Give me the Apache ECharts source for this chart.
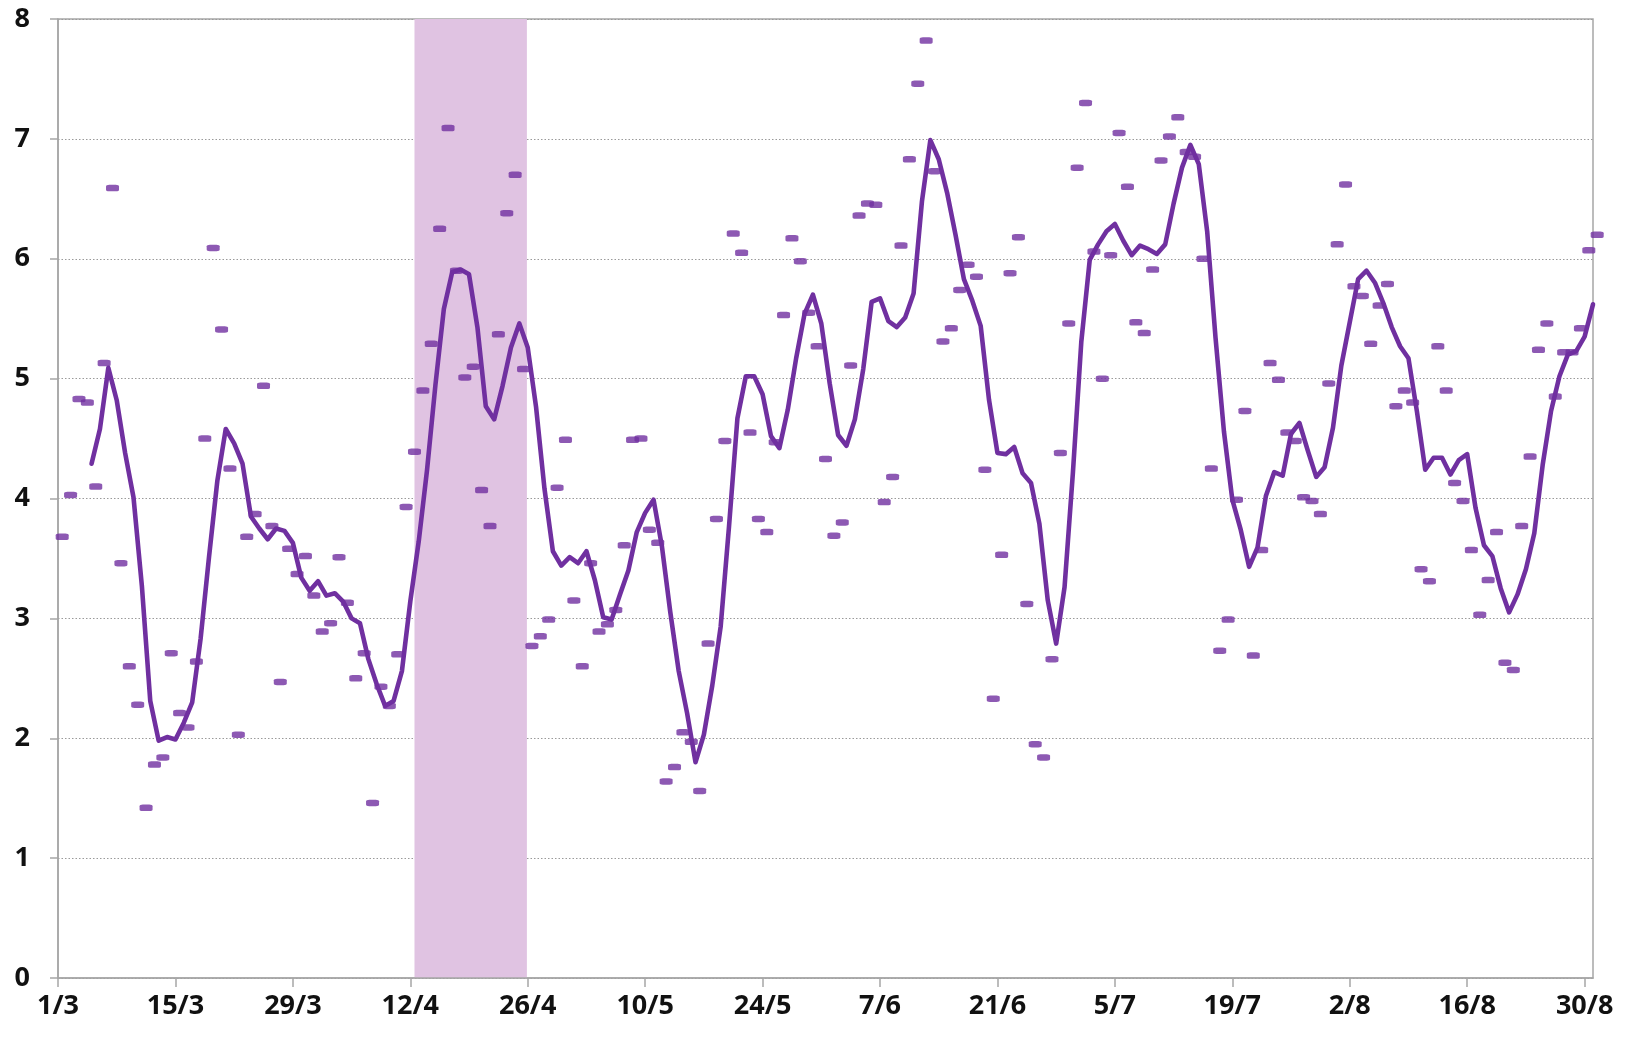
<!DOCTYPE html>
<html><head><meta charset="utf-8">
<script src="https://cdn.jsdelivr.net/npm/echarts@6/dist/echarts.min.js"></script>
<style>html,body{margin:0;padding:0;background:#fff}#c{width:1631px;height:1037px}</style>
</head><body><div id="c"></div>
<script>
// Daily values, one per day from 1/3 (day 0) to 31/8 (day 183)
const dailyValues = [
3.68,4.03,4.83,4.80,4.10,5.13,6.59,3.46,2.60,2.28,
1.42,1.78,1.84,2.71,2.21,2.09,2.64,4.50,6.09,5.41,
4.25,2.03,3.68,3.87,4.94,3.77,2.47,3.58,3.37,3.52,
3.19,2.89,2.96,3.51,3.13,2.50,2.71,1.46,2.43,2.27,
2.70,3.93,4.39,4.90,5.29,6.25,7.09,5.90,5.01,5.10,
4.07,3.77,5.37,6.38,6.70,5.08,2.77,2.85,2.99,4.09,
4.49,3.15,2.60,3.46,2.89,2.95,3.07,3.61,4.49,4.50,
3.74,3.63,1.64,1.76,2.05,1.97,1.56,2.79,3.83,4.48,
6.21,6.05,4.55,3.83,3.72,4.47,5.53,6.17,5.98,5.55,
5.27,4.33,3.69,3.80,5.11,6.36,6.46,6.45,3.97,4.18,
6.11,6.83,7.46,7.82,6.73,5.31,5.42,5.74,5.95,5.85,
4.24,2.33,3.53,5.88,6.18,3.12,1.95,1.84,2.66,4.38,
5.46,6.76,7.30,6.06,5.00,6.03,7.05,6.60,5.47,5.38,
5.91,6.82,7.02,7.18,6.89,6.85,6.00,4.25,2.73,2.99,
3.99,4.73,2.69,3.57,5.13,4.99,4.55,4.48,4.01,3.98,
3.87,4.96,6.12,6.62,5.77,5.69,5.29,5.61,5.79,4.77,
4.90,4.80,3.41,3.31,5.27,4.90,4.13,3.98,3.57,3.03,
3.32,3.72,2.63,2.57,3.77,4.35,5.24,5.46,4.85,5.22,
5.22,5.42,6.07,6.20];

// Smoothed line, starting on day 4 (5/3)
const smoothStartDay = 4;
const smoothedValues = [
4.29,4.58,5.09,4.82,4.38,4.01,3.27,2.31,1.98,2.01,
1.99,2.13,2.30,2.83,3.51,4.15,4.58,4.46,4.29,3.85,
3.75,3.66,3.75,3.73,3.63,3.34,3.23,3.31,3.19,3.21,
3.14,3.00,2.96,2.66,2.45,2.27,2.31,2.56,3.14,3.64,
4.24,4.95,5.58,5.89,5.91,5.87,5.43,4.77,4.66,4.94,
5.26,5.46,5.26,4.76,4.08,3.56,3.44,3.51,3.46,3.56,
3.32,3.01,2.99,3.20,3.40,3.72,3.88,3.99,3.60,3.05,
2.56,2.21,1.80,2.03,2.44,2.93,3.77,4.67,5.02,5.02,
4.87,4.52,4.42,4.74,5.17,5.54,5.70,5.46,4.96,4.53,
4.44,4.66,5.08,5.64,5.67,5.48,5.43,5.51,5.71,6.48,
6.99,6.83,6.55,6.20,5.83,5.65,5.44,4.82,4.38,4.37,
4.43,4.21,4.13,3.79,3.15,2.79,3.26,4.22,5.31,5.99,
6.12,6.23,6.29,6.15,6.03,6.11,6.08,6.04,6.12,6.46,
6.76,6.95,6.79,6.23,5.34,4.56,3.99,3.74,3.43,3.59,
4.02,4.22,4.19,4.54,4.63,4.40,4.18,4.26,4.59,5.11,
5.47,5.83,5.90,5.80,5.63,5.43,5.27,5.17,4.73,4.24,
4.34,4.34,4.20,4.32,4.37,3.92,3.61,3.52,3.25,3.05,
3.20,3.41,3.71,4.28,4.73,5.02,5.20,5.23,5.35,5.62];

const tickDays = [0,14,28,42,56,70,84,98,112,126,140,154,168,182];
const tickLabels = ['1/3','15/3','29/3','12/4','26/4','10/5','24/5','7/6','21/6','5/7','19/7','2/8','16/8','30/8'];
const yTicks = [0,1,2,3,4,5,6,7,8];
const shadedPeriod = [42.5, 55.9]; // 12/4 .. 26/4
const lastDay = 183;

const purple = '#7030A0';
const labelFont = {fontFamily: '"Open Sans", "DejaVu Sans", sans-serif', fontSize: 27, fontWeight: 'bold', color: '#111'};

const chart = echarts.init(document.getElementById('c'), null, {renderer: 'canvas'});
chart.setOption({
  animation: false,
  backgroundColor: '#fff',
  grid: {left: 58, right: 38, top: 19, bottom: 59, show: true, borderColor: '#a6a6a6', borderWidth: 1.5, backgroundColor: 'transparent', z: 0},
  xAxis: [{
    type: 'value', min: 0, max: lastDay, interval: 14, z: 1,
    axisLine: {show: true, onZero: false, lineStyle: {color: '#a6a6a6', width: 1.5}},
    axisTick: {show: true, length: 9, lineStyle: {color: '#a6a6a6', width: 1.5}, customValues: tickDays},
    axisLabel: Object.assign({margin: 15, customValues: tickDays,
      formatter: v => { const i = tickDays.indexOf(Math.round(v)); return i >= 0 ? tickLabels[i] : ''; }}, labelFont),
    splitLine: {show: false}
  }, {
    type: 'value', min: -0.5, max: lastDay - 0.5, show: false
  }],
  yAxis: {
    type: 'value', min: 0, max: 8, interval: 1, z: 1,
    axisLine: {show: true, lineStyle: {color: '#a6a6a6', width: 1.5}},
    axisTick: {show: true, length: 8, lineStyle: {color: '#a6a6a6', width: 1.5}},
    axisLabel: Object.assign({margin: 28, formatter: v => yTicks.includes(v) ? String(v) : ''}, labelFont),
    splitLine: {show: true, lineStyle: {color: '#9a9a9a', width: 1, type: [1.5, 2]}}
  },
  series: [{
    type: 'line', data: [], z: 0, silent: true,
    markArea: {silent: true, itemStyle: {color: '#E0C3E2'},
      data: [[{xAxis: shadedPeriod[0]}, {xAxis: shadedPeriod[1]}]]}
  }, {
    type: 'line', xAxisIndex: 0, z: 3,
    data: smoothedValues.map((v, k) => [k + smoothStartDay, v]),
    showSymbol: false, symbol: 'none',
    lineStyle: {color: purple, width: 4.6, join: 'round', cap: 'round'}
  }, {
    type: 'scatter', xAxisIndex: 1, z: 4, clip: false,
    data: dailyValues.map((v, i) => [i, v]),
    symbol: 'roundRect', symbolSize: [13, 6.5],
    itemStyle: {color: purple}
  }]
});
</script></body></html>
